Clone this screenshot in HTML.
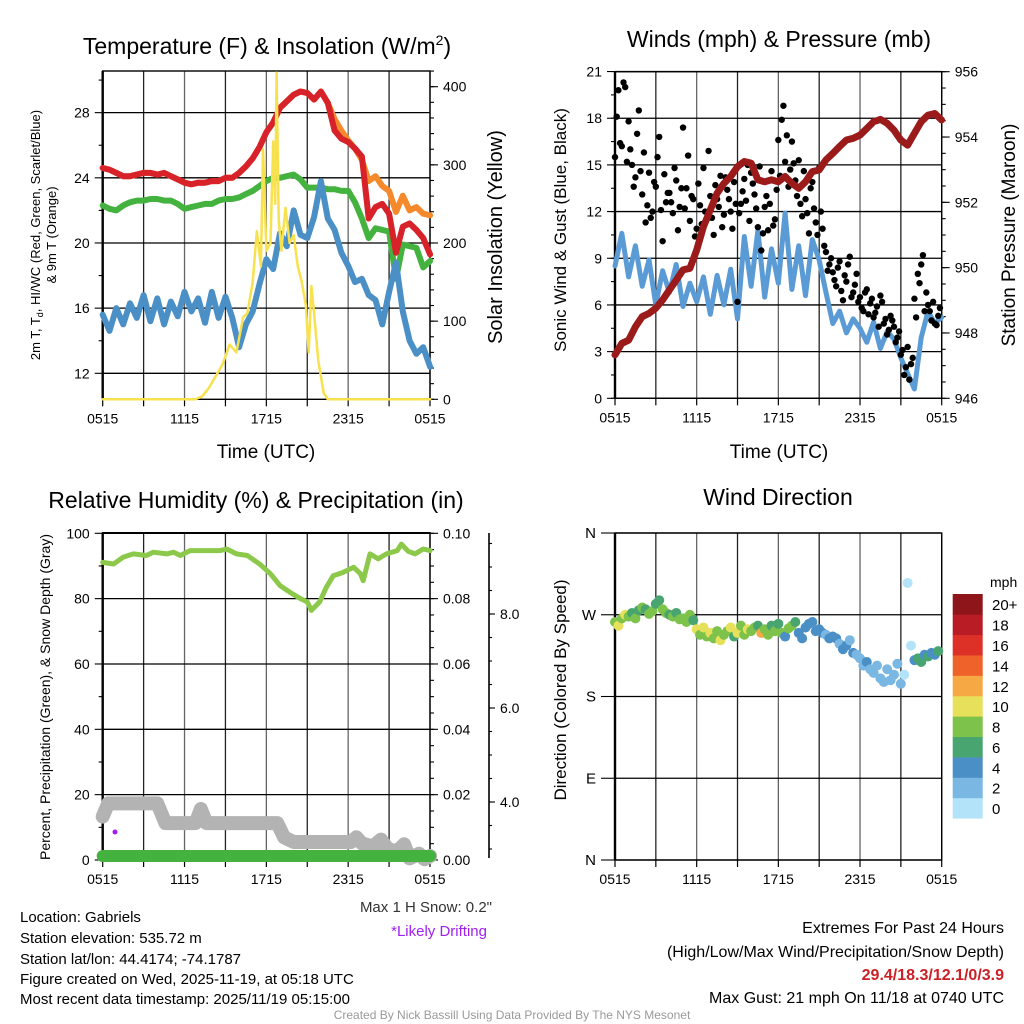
<!DOCTYPE html>
<html><head><meta charset="utf-8"><title>Station meteogram</title>
<style>
html,body{margin:0;padding:0;background:#fff;}
svg{display:block;font-family:"Liberation Sans",Arial,sans-serif;}
</style></head>
<body>
<svg id="chart" width="1024" height="1024" viewBox="0 0 1024 1024">
<rect width="1024" height="1024" fill="#fff"/>
<g id="p1"></g>
<g id="p2"></g>
<g id="p3"></g>
<g id="p4"></g>
<text x="267" y="54" font-size="23" text-anchor="middle">Temperature (F) &amp; Insolation (W/m<tspan font-size="14" dy="-9">2</tspan><tspan dy="9">)</tspan></text>
<text x="779" y="47" font-size="23" text-anchor="middle">Winds (mph) &amp; Pressure (mb)</text>
<text x="256" y="508" font-size="23" text-anchor="middle">Relative Humidity (%) &amp; Precipitation (in)</text>
<text x="778" y="505" font-size="23" text-anchor="middle">Wind Direction</text>
<text x="266" y="458" font-size="19" text-anchor="middle">Time (UTC)</text>
<text x="779" y="458" font-size="19" text-anchor="middle">Time (UTC)</text>
<text transform="translate(40,235) rotate(-90)" font-size="13" text-anchor="middle">2m T, T<tspan font-size="9" dy="3">d</tspan><tspan dy="-3">, HI/WC (Red, Green, Scarlet/Blue)</tspan></text>
<text transform="translate(56,235) rotate(-90)" font-size="13" text-anchor="middle">&amp; 9m T (Orange)</text>
<text transform="translate(502,237) rotate(-90)" font-size="20" text-anchor="middle">Solar Insolation (Yellow)</text>
<text transform="translate(566,230) rotate(-90)" font-size="17" text-anchor="middle">Sonic Wind &amp; Gust (Blue, Black)</text>
<text transform="translate(1015,235) rotate(-90)" font-size="19" text-anchor="middle">Station Pressure (Maroon)</text>
<text transform="translate(50,697) rotate(-90)" font-size="14" text-anchor="middle">Percent, Precipitation (Green), &amp; Snow Depth (Gray)</text>
<text transform="translate(566,690) rotate(-90)" font-size="17" text-anchor="middle">Direction (Colored By Speed)</text>
<text x="990" y="587" font-size="14">mph</text>
<text x="492" y="912" font-size="15" text-anchor="end" fill="#333">Max 1 H Snow: 0.2"</text>
<text x="487" y="936" font-size="15" text-anchor="end" fill="#a020f0">*Likely Drifting</text>
<g font-size="15">
<text x="20" y="922">Location: Gabriels</text>
<text x="20" y="943">Station elevation: 535.72 m</text>
<text x="20" y="964">Station lat/lon: 44.4174; -74.1787</text>
<text x="20" y="984">Figure created on Wed, 2025-11-19, at 05:18 UTC</text>
<text x="20" y="1004">Most recent data timestamp: 2025/11/19 05:15:00</text>
</g>
<g font-size="16" text-anchor="end">
<text x="1004" y="933">Extremes For Past 24 Hours</text>
<text x="1004" y="957">(High/Low/Max Wind/Precipitation/Snow Depth)</text>
<text x="1004" y="980" fill="#cc2027" font-weight="bold">29.4/18.3/12.1/0/3.9</text>
<text x="1004" y="1003">Max Gust: 21 mph On 11/18 at 0740 UTC</text>
</g>
<text x="512" y="1019" font-size="12" text-anchor="middle" fill="#999">Created By Nick Bassill Using Data Provided By The NYS Mesonet</text>
</svg>
<script>
// ---------- data ----------
const timeTickLabels = ["0515","1115","1715","2315","0515"];
const halfHours = Array.from({length:49},(_, i)=>i*0.5);
const quarterHours = Array.from({length:96},(_, i)=>i*0.25);
const gust2Hours = Array.from({length:96},(_, i)=>i*0.25+0.125);
const tempTicks = [12,16,20,24,28];
const solarTicks = [0,100,200,300,400];
const airTemp2m = [24.6,24.5,24.3,24.1,24.1,24.2,24.3,24.3,24.2,24.3,24.1,23.9,23.7,23.6,23.7,23.7,23.8,23.8,24.0,24.0,24.3,24.7,25.2,25.9,26.8,27.4,28.3,28.7,29.1,29.3,29.2,28.8,29.3,28.6,26.9,26.4,26.2,25.8,25.3,21.5,22.2,22.4,21.8,19.4,21.0,21.2,20.8,20.3,19.3];
const airTemp9m = [24.6,24.5,24.3,24.1,24.1,24.2,24.3,24.3,24.2,24.3,24.1,23.9,23.7,23.6,23.7,23.7,23.8,23.8,24.0,24.0,24.3,24.7,25.2,25.9,26.8,27.4,28.3,28.7,29.1,29.3,29.2,28.8,29.3,28.6,27.6,26.9,26.3,25.8,25.1,23.8,24.1,23.5,23.2,21.9,22.9,22.0,22.2,21.8,21.7];
const dewPoint = [22.3,22.1,22.0,22.3,22.5,22.6,22.6,22.7,22.7,22.6,22.6,22.4,22.1,22.2,22.3,22.4,22.4,22.6,22.7,22.7,22.8,23.0,23.2,23.5,23.8,24.0,24.0,24.1,24.2,23.9,23.4,23.4,23.4,23.3,23.3,23.2,23.2,22.5,21.5,20.3,20.9,20.8,20.7,17.8,19.9,19.8,19.7,18.5,18.9];
const windChill = [15.6,14.6,16.0,15.0,16.3,15.4,16.8,15.2,16.6,15.0,16.4,15.5,17.0,15.8,16.6,15.1,17.0,15.4,16.7,15.4,13.6,15.0,15.8,17.5,19.0,18.4,20.6,19.8,22.0,20.5,20.3,21.6,23.8,21.5,20.8,19.4,18.6,17.6,17.8,16.8,16.5,15.0,17.0,18.8,15.8,14.0,13.2,13.6,12.4];
const solarHours = [0,6.8,7.3,7.8,8.3,8.8,9.3,9.8,10.3,10.6,11.0,11.3,11.6,11.75,12.0,12.3,12.5,12.65,12.75,12.9,13.1,13.4,13.7,14.0,14.3,14.6,14.9,15.1,15.3,15.5,15.8,16.2,16.5,24];
const solarVals = [0,0,4,15,30,45,70,60,105,110,150,215,170,320,190,200,330,250,418,230,190,245,200,210,170,150,120,60,145,110,50,8,0,0];

const windTicks = [0,3,6,9,12,15,18,21];
const pressTicks = [946,948,950,952,954,956];
const windSpeed = [8.5,10.6,7.8,9.8,7.2,8.9,6.0,8.2,6.8,8.6,5.9,7.4,6.2,7.8,5.4,7.9,6.0,8.3,5.1,10.4,7.2,10.8,6.5,9.6,7.4,11.9,7.0,9.8,6.6,10.2,8.9,6.8,4.8,5.6,4.2,5.1,4.5,3.6,4.9,3.2,4.3,3.8,2.6,1.6,0.6,3.9,5.6,4.8,5.2];
const windGust = [15.5,19.8,16.2,20.0,17.8,15.0,14.2,18.5,13.1,11.3,14.5,12.0,13.6,16.8,10.1,12.6,13.2,11.9,14.0,12.3,17.4,13.5,11.4,12.8,10.9,12.4,14.8,11.5,13.0,10.5,12.8,14.3,11.8,13.4,12.0,13.9,6.2,12.5,14.1,15.0,14.5,13.1,11.0,9.5,12.3,10.8,14.6,11.5,16.6,17.9,15.2,13.6,16.5,14.0,15.3,11.7,12.8,10.6,13.9,11.3,14.8,10.9,9.4,8.6,8.1,7.2,8.8,6.3,7.5,9.1,6.8,8.0,6.5,5.6,7.0,6.1,5.2,5.9,6.6,4.8,4.1,5.3,4.6,3.9,2.8,1.5,3.3,2.2,6.4,8.0,8.6,5.6,6.0,5.0,4.8,5.3];
const windGust2 = [18.1,16.4,20.3,15.2,16.0,13.6,17.0,14.6,15.8,12.4,11.6,13.9,15.5,12.1,14.4,13.2,12.6,14.8,10.8,13.5,12.2,15.6,13.0,10.4,13.8,11.2,12.0,15.9,11.6,13.7,12.3,11.0,14.2,12.8,10.9,12.5,11.9,13.3,12.7,11.4,13.8,12.2,14.9,10.6,13.0,12.5,11.1,13.4,14.3,18.8,16.9,14.7,15.1,13.0,12.5,14.6,11.9,13.5,12.2,10.5,12.0,9.8,8.2,9.0,7.6,8.4,6.9,7.9,8.6,6.5,7.3,6.2,5.8,6.8,5.4,6.4,5.5,4.6,6.2,5.1,4.4,5.0,3.6,4.3,3.1,2.0,1.2,2.6,5.2,7.4,9.2,6.8,5.6,6.2,4.7,5.8];
const pressure = [947.33,947.68,947.78,948.19,948.50,948.60,948.76,949.01,949.32,949.62,949.93,949.98,950.54,951.26,951.77,952.28,952.58,952.79,953.09,953.25,953.20,952.69,952.63,952.69,952.63,952.79,952.58,952.43,952.63,952.94,952.99,953.30,953.50,953.71,953.91,953.96,954.06,954.26,954.47,954.54,954.42,954.21,953.91,953.75,954.11,954.47,954.67,954.72,954.52];

const rhTicks = [0,20,40,60,80,100];
const precipTicks = ["0.00","0.02","0.04","0.06","0.08","0.10"];
const snowTicks = ["4.0","6.0","8.0"];
const rhHours = [0,0.8,1.5,2.25,3.2,3.7,4.7,5.2,5.7,6.4,8.6,9.1,9.8,10.6,11.5,12.3,13,13.7,14.5,15,15.3,15.9,16.4,16.9,17.6,18.4,18.9,19.1,19.6,20.2,20.8,21.6,21.9,22.4,22.9,23.5,24];
const rhVals = [91.1,90.6,92.7,93.7,93.2,94.2,93.7,94.2,93.2,94.7,94.7,95.2,93.7,93.2,90.6,87.6,84,82,80,79,76.4,79,83.5,87,88,89.6,87.6,85.5,93.7,92.2,93.7,94.7,96.7,94.5,93.7,95.2,94.7];
const snowHours = [0,0.4,4,4.6,6.8,7.2,7.6,12.8,13.3,14,18.2,18.6,19,19.8,20.4,20.9,21.6,22.1,22.5,23.2,23.6,24];
const snowVals = [3.69,3.97,3.97,3.55,3.55,3.85,3.55,3.55,3.25,3.15,3.15,3.25,3.12,3.05,3.2,3.0,2.95,3.1,2.8,2.9,2.78,2.85];
const precipHours = [0,24];
const precipVals = [0,0];

const dirLabels = ["N","W","S","E","N"];
const dirTickDeg = [360,270,180,90,0];
const windDir = [262,258,266,270,268,272,266,275,278,276,271,274,282,286,276,272,270,268,272,265,266,262,270,264,254,248,256,246,250,244,252,242,248,252,256,246,250,258,248,254,252,256,258,250,254,248,258,252,260,250,246,255,258,262,250,244,256,260,262,252,254,250,248,244,246,244,238,232,236,242,228,226,222,214,218,210,206,214,200,196,210,198,204,216,194,204,305,236,220,222,218,226,224,228,226,230];
const dirSpeed = [9,10,8,10.5,8,7,9,6.5,8,7,8.5,9,7,6.5,9,8,7,8,6,9,9,8,8.5,7,10,9,11,8,10.5,9,8,11,9,8.5,10,7,10,8,9,10.5,9,8,7,12.5,8,9,6.5,8,7,9,5,8,8,7,5,4.5,4,5,4,5.5,4,4.5,3.5,5,4,4,3,4.5,4,3.5,4,2.5,3,3.5,4,3,3,3.5,2.5,3,3,2.5,3,2,2.5,1.5,1,1.5,5,6,7,5.5,6,4.5,5,6];
const speedBins = ["0","2","4","6","8","10","12","14","16","18","20+"];
const speedColors = ["#b3e3f8","#7ab8e3","#4a8fc6","#48a570","#7dc24a","#e6e05a","#f5a843","#ef6229","#dd3128","#b91c24","#8e1519"];

// ---------- helpers ----------
const NS = "http://www.w3.org/2000/svg";
function el(tag, attrs, parent){
  const e = document.createElementNS(NS, tag);
  for (const k in attrs) e.setAttribute(k, attrs[k]);
  parent.appendChild(e);
  return e;
}
function poly(xs, ys, xf, yf){ return xs.map((h,i)=>xf(h).toFixed(1)+","+yf(ys[i]).toFixed(1)).join(" "); }

const X1 = h => 102.7 + h*13.64;
const X2 = h => 615 + h*13.61;
const yT = v => 373.3 - (v-12)*16.29;
const yS = v => 399.3 - v*0.7815;
const yW = v => 398.3 - v*15.56;
const yP = v => 398.3 - (v-946)*32.66;
const yR = v => 860 - v*3.267;
const yPr = v => 860 - v*3267;
const ySn = v => 802 - (v-4)*47;
const yD = v => 860 - v*0.9083;

function frame(g, x0, x1, y0, y1, hLines){
  for (let i=0;i<=8;i++){
    const x = x0 + (x1-x0)*i/8;
    const l = el("line",{x1:x,x2:x,y1:y0,y2:y1,stroke:i%2?"#222":"#666","stroke-width":1.3},g);
    
    
    const t = el("line",{x1:x,x2:x,y1:y1,y2:y1+7,stroke:"#000","stroke-width":1.2},g);
    
    
  }
  hLines.forEach(y=>{
    const l = el("line",{x1:x0,x2:x1,y1:y,y2:y,stroke:"#000","stroke-width":1.3},g);
    
    
  });
  const b = el("rect",{x:x0,y:y0,width:x1-x0,height:y1-y0,fill:"none",stroke:"#000","stroke-width":1.4},g);
  
  
  const ax = el("line",{x1:x0,x2:x0,y1:y0,y2:y1,stroke:"#000","stroke-width":2.4},g);
  
  
  timeTickLabels.forEach((s,i)=>{
    const t = el("text",{x:x0+(x1-x0)*i/4,y:y1+24,"font-size":14,"text-anchor":"middle"},g);
    t.textContent = s;
    
    
  });
}
function ticks(g, x, vals, yf, side, len, labels, fs){
  vals.forEach((v,i)=>{
    const y = yf(v);
    const l = el("line",{x1:x,x2:x+side*len,y1:y,y2:y,stroke:"#000","stroke-width":1.1},g);
    
    
    if (labels){
      const t = el("text",{x:x+side*(len+5),y:y+5,"font-size":fs||14,"text-anchor":side<0?"end":"start"},g);
      t.textContent = labels[i];
      
      
    }
  });
}
function range(a,b,s){const r=[];for(let v=a;v<=b+1e-9;v+=s)r.push(+v.toFixed(4));return r;}
function line(g, xs, ys, xf, yf, color, w, name){
  const p = el("polyline",{points:poly(xs,ys,xf,yf),fill:"none",stroke:color,"stroke-width":w,"stroke-linejoin":"round","stroke-linecap":"round"},g);
  
  
}

// ---------- panel 1 ----------
const g1 = document.getElementById("p1");
frame(g1, 102.7, 430, 71, 399.3, tempTicks.map(yT));
ticks(g1, 102.7, [14,18,22,26,30], yT, -1, 4);
ticks(g1, 102.7, tempTicks, yT, -1, 8, tempTicks.map(String));
ticks(g1, 430, range(0,420,20), yS, 1, 4);
ticks(g1, 430, solarTicks, yS, 1, 8, solarTicks.map(String));
line(g1, halfHours, airTemp9m, X1, yT, "#f58a2c", 6, "series-9m-temp");
line(g1, halfHours, dewPoint, X1, yT, "#44b23e", 6, "series-dewpoint");
line(g1, halfHours, airTemp2m, X1, yT, "#d7222a", 6, "series-2m-temp");
line(g1, halfHours, windChill, X1, yT, "#4a8fc6", 6, "series-wind-chill");
line(g1, solarHours, solarVals, X1, yS, "#f8e14e", 2.5, "series-solar");

// ---------- panel 2 ----------
const g2 = document.getElementById("p2");
frame(g2, 615, 941.7, 71.7, 398.3, windTicks.map(yW));
ticks(g2, 615, range(0,21,1.5), yW, -1, 4);
ticks(g2, 615, windTicks, yW, -1, 8, windTicks.map(String));
ticks(g2, 941.7, range(946,956,0.5), yP, 1, 4);
ticks(g2, 941.7, pressTicks, yP, 1, 8, pressTicks.map(String));
line(g2, halfHours, windSpeed, X2, yW, "#5b9bd5", 5, "series-wind-speed");
windGust.forEach((v,i)=>{
  const c = el("circle",{cx:X2(quarterHours[i]),cy:yW(v),r:3.2,fill:"#000"},g2);
  
  
});
windGust2.forEach((v,i)=>{
  const c = el("circle",{cx:X2(gust2Hours[i]),cy:yW(v),r:3.2,fill:"#000"},g2);
  
  
});
line(g2, halfHours, pressure, X2, yP, "#9b1b1b", 7, "series-pressure");

// ---------- panel 3 ----------
const g3 = document.getElementById("p3");
frame(g3, 102.7, 430, 532.7, 860, rhTicks.map(yR));
ticks(g3, 102.7, range(10,90,20), yR, -1, 4);
ticks(g3, 102.7, rhTicks, yR, -1, 8, rhTicks.map(String));
ticks(g3, 430, range(0,0.1,0.005), yPr, 1, 4);
ticks(g3, 430, precipTicks.map(Number), yPr, 1, 8, precipTicks);
const snowAxis = el("line",{x1:489,x2:489,y1:533,y2:858,stroke:"#000","stroke-width":1.6},g3);


ticks(g3, 489, range(3,9.5,0.5), ySn, 1, 3);
ticks(g3, 489, snowTicks.map(Number), ySn, 1, 6, snowTicks);
line(g3, snowHours, snowVals, X1, ySn, "#b3b3b3", 14, "series-snow-depth");
line(g3, precipHours, precipVals, X1, v=>yPr(v)-4, "#44b23e", 12, "series-precipitation");
line(g3, rhHours, rhVals, X1, yR, "#8cc94a", 5, "series-humidity");
const drift = el("circle",{cx:115,cy:832,r:2.5,fill:"#a020f0"},g3);



// ---------- panel 4 ----------
const g4 = document.getElementById("p4");
frame(g4, 615, 941.7, 533, 860, dirTickDeg.map(yD));
ticks(g4, 615, dirTickDeg, yD, -1, 14, dirLabels, 15);
function speedColor(s){ return speedColors[Math.min(10, Math.floor(s/2))]; }
windDir.forEach((d,i)=>{
  const c = el("circle",{cx:X2(quarterHours[i]),cy:yD(d),r:5,fill:speedColor(dirSpeed[i])},g4);
  
  
});
const segH = (818.3-594)/11;
speedColors.forEach((col,i)=>{
  const y = 818.3 - (i+1)*segH;
  const r = el("rect",{x:952.7,y:y,width:30,height:segH+0.3,fill:col},g4);
  
  
  const t = el("text",{x:992,y:y+segH/2+6,"font-size":15},g4);
  t.textContent = speedBins[i];
  
  
});
</script>
</body></html>
